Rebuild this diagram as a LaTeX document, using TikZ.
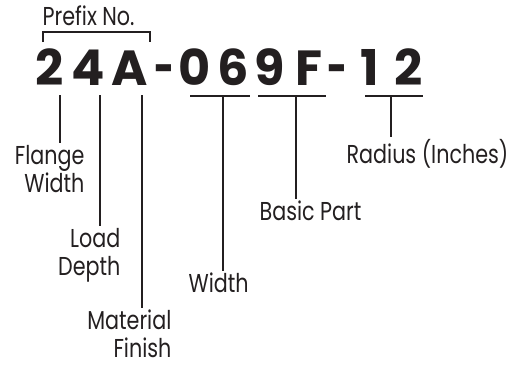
\documentclass[tikz,border=0pt]{standalone}
\usepackage{fontspec}
\setmainfont{Poppins}
\newfontfamily\lblfont{Poppins}[FakeStretch=0.8]
\usepackage{xcolor}
\usetikzlibrary{positioning, calc}
\definecolor{inkgray}{HTML}{231F20}

\begin{document}
\begin{tikzpicture}[x=0.75pt, y=-0.75pt,
    code/.style={anchor=base, inner sep=0pt, text=inkgray, font=\fontsize{37}{40}\selectfont\bfseries},
    lbl/.style={inner sep=1pt, text=inkgray, font=\lblfont\fontsize{19.4}{21}\selectfont},
    tick/.style={draw=inkgray, line width=1.6pt},
    bar/.style={draw=inkgray, line width=1.5pt}
]
    \useasboundingbox (0,0) rectangle (511,368);

    % Part number characters
    \node (c2a) [code] at (50,85) {2};
    \node (c4) [code] at (88,85) {4};
    \node (cA) [code] at (130,85) {A};
    \node (dash1) [code, xscale=0.7] at (165,85) {-};
    \node (c0) [code] at (195,85) {0};
    \node (c6) [code] at (233,85) {6};
    \node (c9) [code] at (270,85) {9};
    \node (cF) [code] at (309,85) {F};
    \node (dash2) [code, xscale=0.7] at (338,85) {-};
    \node (c1) [code] at (370,85) {1};
    \node (c2b) [code] at (409,85) {2};

    % Labels
    \node (prefix) [lbl, anchor=base west] at (41,25) {Prefix No.};
    \node (flange) [lbl, anchor=base east, align=right] at (86,192) {Flange\\Width};
    \node (load) [lbl, anchor=base east, align=right] at (122,275) {Load\\Depth};
    \node (material) [lbl, anchor=base east, align=right] at (173,357) {Material\\Finish};
    \node (width) [lbl, anchor=base west] at (187,292) {Width};
    \node (basic) [lbl, anchor=base west] at (258,220) {Basic Part};
    \node (radius) [lbl, anchor=base west] at (345,163) {Radius (Inches)};

    % Bracket over prefix
    \draw [bar] (43,42) |- (150,32) -- (150,42);

    % Underlines
    \coordinate (u06) at (223,96);
    \coordinate (u9F) at (296,96);
    \coordinate (u12) at (391,96);
    \draw [bar] (190,96) -- (250,96);
    \draw [bar] (258,96) -- (326,96);
    \draw [bar] (365,96) -- (423,96);

    % Leader lines
    \coordinate (fw) at (60,95);
    \coordinate (ld) at (100,95);
    \coordinate (mf) at (142,95);
    \draw [tick] (fw) -- (fw |- flange.north);
    \draw [tick] (ld) -- (ld |- load.north);
    \draw [tick] (mf) -- (mf |- material.north);
    \draw [tick] (u06) -- (u06 |- width.north);
    \draw [tick] (u9F) -- (u9F |- basic.north);
    \draw [tick] (u12) -- (u12 |- radius.north);
\end{tikzpicture}
\end{document}
